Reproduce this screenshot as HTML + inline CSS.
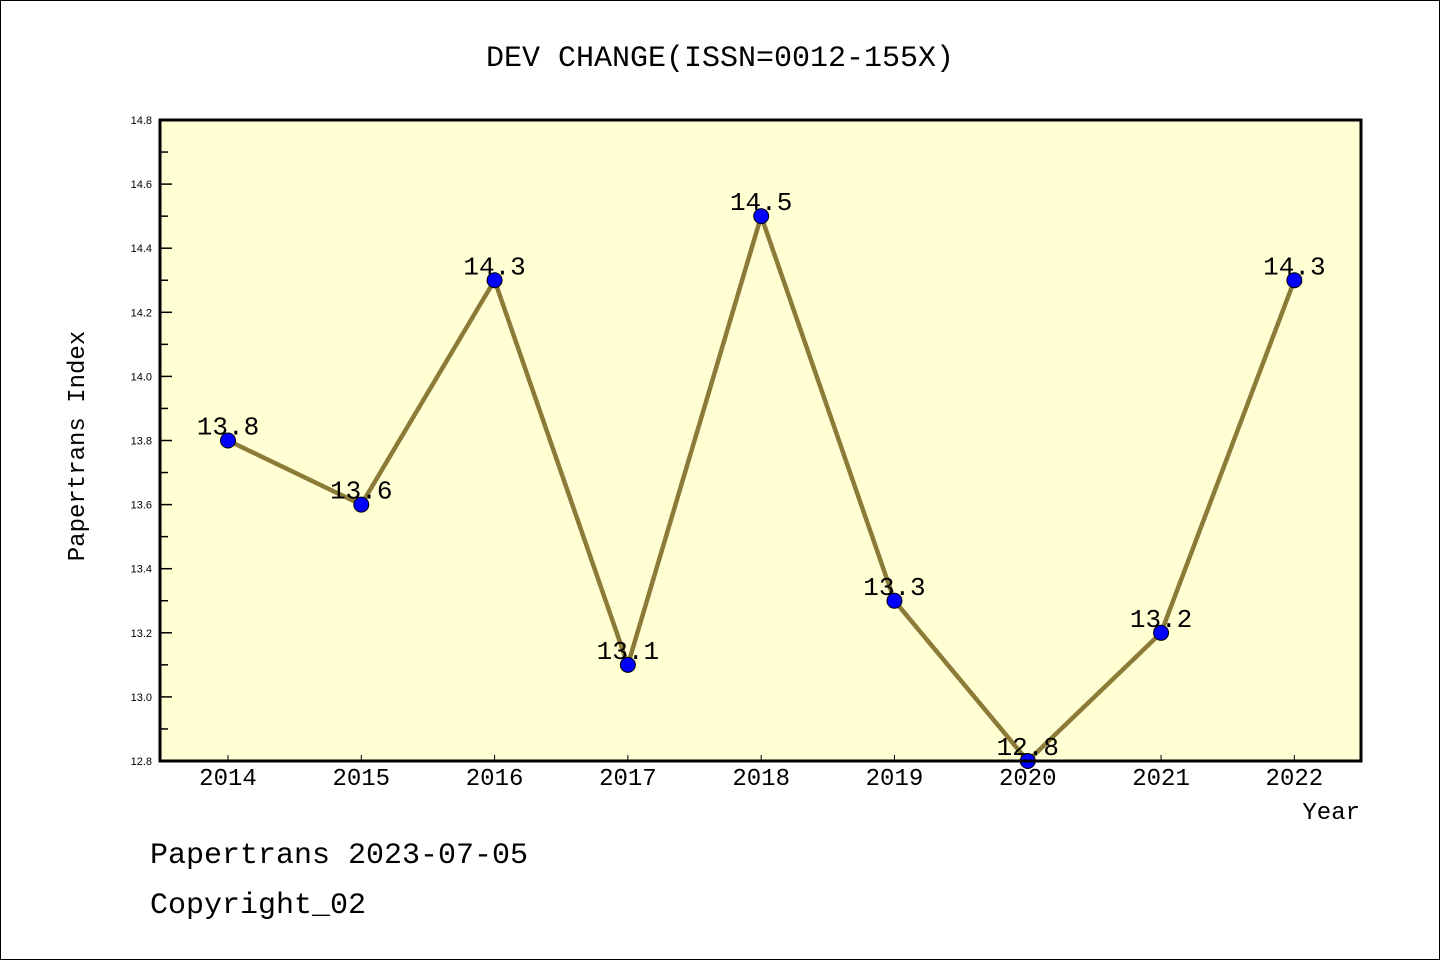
<!DOCTYPE html>
<html><head><meta charset="utf-8">
<style>
html,body{margin:0;padding:0;background:#fff;}
body{width:1440px;height:960px;overflow:hidden;}
svg text{font-family:"Liberation Mono",monospace;}
svg text.sm{font-family:"Liberation Sans",sans-serif;}
</style></head>
<body>
<svg id="chart" width="1440" height="960" xmlns="http://www.w3.org/2000/svg">
<rect x="0.5" y="0.5" width="1439" height="959" fill="#fff" stroke="#000" stroke-width="1"/>
<text x="720" y="66" text-anchor="middle" font-size="30">DEV CHANGE(ISSN=0012-155X)</text>
<rect x="160" y="120" width="1201" height="641" fill="#ffffd3"/>
<g id="ticks"></g>
<g id="series"></g>
<rect x="160" y="120" width="1201" height="641" fill="none" stroke="#000" stroke-width="3"/>
<text transform="translate(84,446) rotate(-90)" text-anchor="middle" font-size="24">Papertrans Index</text>
<text x="1360" y="819" text-anchor="end" font-size="24">Year</text>
<text x="150" y="863" font-size="30">Papertrans 2023-07-05</text>
<text x="150" y="913" font-size="30">Copyright_02</text>
</svg>
<script>
const years = [2014,2015,2016,2017,2018,2019,2020,2021,2022];
const values = [13.8,13.6,14.3,13.1,14.5,13.3,12.8,13.2,14.3];
const valueLabels = ["13.8","13.6","14.3","13.1","14.5","13.3","12.8","13.2","14.3"];
const yTicks = [12.8,13.0,13.2,13.4,13.6,13.8,14.0,14.2,14.4,14.6,14.8];
const yMinorTicks = [12.9,13.1,13.3,13.5,13.7,13.9,14.1,14.3,14.5,14.7];

const NS="http://www.w3.org/2000/svg";
const L=160,R=1361,T=120,B=761;
const xMin=2013.49,xMax=2022.5,yMin=12.8,yMax=14.8;
function xs(v){return L+(v-xMin)/(xMax-xMin)*(R-L);}
function ys(v){return B-(v-yMin)/(yMax-yMin)*(B-T);}
function mk(tag,attrs,parent){const e=document.createElementNS(NS,tag);for(const k in attrs)e.setAttribute(k,attrs[k]);parent.appendChild(e);return e;}
const tg=document.getElementById('ticks');
yTicks.forEach(v=>{
  const y=ys(v);
  const l=mk('line',{x1:L,x2:L+12,y1:y,y2:y,stroke:'#000','stroke-width':1.5},tg);
  
  
  const t=mk('text',{x:152,y:y+4,'text-anchor':'end','font-size':11,'class':'sm'},tg);
  
  
  t.textContent=v.toFixed(1);
});
yMinorTicks.forEach(v=>{
  const y=ys(v);
  const l=mk('line',{x1:L,x2:L+8,y1:y,y2:y,stroke:'#000','stroke-width':1.5},tg);
  
  
});
years.forEach(v=>{
  const x=xs(v);
  const l=mk('line',{x1:x,x2:x,y1:B,y2:B-6,stroke:'#000','stroke-width':1},tg);
  
  
  const t=mk('text',{x:x,y:785,'text-anchor':'middle','font-size':24},tg);
  
  
  t.textContent=String(v);
});
const sg=document.getElementById('series');
const pts=years.map((yr,i)=>xs(yr)+','+ys(values[i])).join(' ');
const pl=mk('polyline',{points:pts,fill:'none',stroke:'#8c7b38','stroke-width':4.5,'stroke-linejoin':'round'},sg);


years.forEach((yr,i)=>{
  const c=mk('circle',{cx:xs(yr),cy:ys(values[i]),r:7.5,fill:'#0000ff',stroke:'#000','stroke-width':1},sg);
  
  
  const t=mk('text',{x:xs(yr),y:ys(values[i])-6,'text-anchor':'middle','font-size':26},sg);
  
  
  t.textContent=valueLabels[i];
});
</script>
</body></html>
